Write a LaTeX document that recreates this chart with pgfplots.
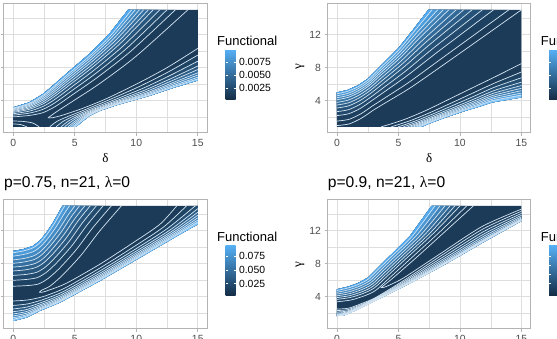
\documentclass[border=0pt]{standalone}
\usepackage{pgfplots}
\pgfplotsset{compat=1.18}
\usepackage{fontspec}
\setmainfont{Liberation Sans}
\newfontfamily\gk{Liberation Serif}
\definecolor{cLo}{HTML}{132B43}
\definecolor{cHi}{HTML}{56B1F7}
\definecolor{grey87}{HTML}{DEDEDE}
\definecolor{grey70}{HTML}{B3B3B3}
\definecolor{grey30}{HTML}{4D4D4D}
\definecolor{lineC}{RGB}{212,229,243}
\colorlet{pale}{cHi!72!white}
\newcommand\band[3]{\edef\ggtmp{\noexpand\addplot[draw=none,fill=#1,forget plot] coordinates {#2 #3} -- cycle;}\ggtmp}
\newcommand\ctr[1]{\edef\ggtmp{\noexpand\addplot[lineC,line width=0.7pt,mark=none,smooth,tension=0.45,forget plot] coordinates {#1};}\ggtmp}
% ---------- panel A ----------
\def\bAu{(9.34,15) (7.85,12.16) (6.22,9.71) (4.32,7.27) (3.23,5.84) (2.4,4.8) (1.3,3.8) (0,3.2)}
\def\bAl{(15,6.45) (13.0,5.55) (11.11,4.61) (8.4,3.47) (7.03,2.78) (6.2,2.16) (5.67,1.55) (5.1,0.85)}
\def\Aua{(0,2.05) (1.3,2.22) (2.4,2.55) (3.44,3.32) (4.86,4.77) (6.84,6.82) (9.55,9.98) (13.18,15)}
\def\Aub{(0,2.26) (1.3,2.5) (2.4,2.95) (3.41,3.77) (4.76,5.21) (6.73,7.33) (9.25,10.37) (12.5,15)}
\def\Auc{(0,2.43) (1.3,2.74) (2.4,3.29) (3.37,4.15) (4.68,5.59) (6.63,7.77) (8.99,10.7) (11.92,15)}
\def\Aud{(0,2.59) (1.3,2.96) (2.4,3.6) (3.34,4.5) (4.61,5.94) (6.55,8.17) (8.75,11.0) (11.38,15)}
\def\Aue{(0,2.71) (1.3,3.12) (2.4,3.83) (3.32,4.76) (4.55,6.19) (6.49,8.47) (8.58,11.22) (10.99,15)}
\def\Auf{(0,2.82) (1.3,3.28) (2.4,4.06) (3.3,5.01) (4.5,6.45) (6.42,8.76) (8.41,11.44) (10.6,15)}
\def\Aug{(0,2.92) (1.3,3.42) (2.4,4.26) (3.28,5.23) (4.45,6.67) (6.37,9.02) (8.26,11.64) (10.26,15)}
\def\Auh{(0,3.03) (1.3,3.56) (2.4,4.46) (3.26,5.46) (4.4,6.89) (6.31,9.27) (8.11,11.83) (9.92,15)}
\def\Aui{(0,3.11) (1.3,3.68) (2.4,4.63) (3.25,5.65) (4.36,7.08) (6.27,9.49) (7.98,11.99) (9.63,15)}
\def\Ala{(2.97,0.85) (3.56,1.51) (4.46,2.11) (5.82,2.91) (7.69,4.05) (10.23,5.71) (12.61,7.49) (15,9.52)}
\def\Alb{(3.48,0.85) (4.07,1.52) (4.88,2.12) (6.11,2.88) (7.86,3.91) (10.44,5.44) (12.7,7.02) (15,8.78)}
\def\Alc{(3.89,0.85) (4.47,1.53) (5.21,2.13) (6.34,2.86) (8.0,3.8) (10.61,5.24) (12.78,6.65) (15,8.2)}
\def\Ald{(4.18,0.85) (4.76,1.53) (5.45,2.14) (6.51,2.84) (8.09,3.72) (10.73,5.08) (12.83,6.38) (15,7.77)}
\def\Ale{(4.45,0.85) (5.03,1.54) (5.67,2.15) (6.66,2.82) (8.18,3.65) (10.84,4.94) (12.88,6.14) (15,7.38)}
\def\Alf{(4.64,0.85) (5.22,1.54) (5.83,2.15) (6.77,2.81) (8.25,3.59) (10.92,4.85) (12.92,5.97) (15,7.11)}
\def\Alg{(4.83,0.85) (5.4,1.55) (5.98,2.15) (6.88,2.8) (8.31,3.54) (11.0,4.75) (12.95,5.8) (15,6.84)}
\def\Alh{(4.97,0.85) (5.54,1.55) (6.09,2.16) (6.95,2.79) (8.36,3.51) (11.06,4.68) (12.98,5.67) (15,6.64)}
\def\AU{(15,10.33) (12.5,8.0) (10,6.0) (7.5,4.2) (5.5,3.0) (4,2.25) (3.2,1.95) (2.85,1.94) (3.0,2.12) (3.5,2.65) (5,4.1) (7,6.05) (10,9.4) (14.2,15)}
% ---------- panel B ----------
\def\bBu{(7.43,15) (6.2,12.6) (4.97,10.3) (3.33,7.88) (2.51,6.65) (1.69,5.84) (0.87,5.3) (0,5.0)}
\def\bBl{(15,4.4) (12.62,3.8) (11.5,3.25) (10.43,2.78) (8.8,1.96) (7.7,1.35) (7.3,1.1) (6.89,0.85)}
\def\BV{(0,1.0) (1.0,1.2) (2.0,1.9) (3.0,2.9) (4.0,3.8) (6.0,5.6) (9.0,8.7) (15,15)}
\def\Bua{(0,1.54) (0.98,1.75) (1.96,2.43) (2.93,3.41) (3.91,4.35) (5.86,6.24) (8.62,9.23) (13.98,15)}
\def\Bub{(0,2.2) (0.96,2.43) (1.91,3.08) (2.85,4.03) (3.8,5.02) (5.69,7.01) (8.16,9.87) (12.73,15)}
\def\Buc{(0,2.68) (0.95,2.92) (1.87,3.56) (2.79,4.48) (3.72,5.51) (5.57,7.57) (7.82,10.34) (11.82,15)}
\def\Bud{(0,3.12) (0.93,3.37) (1.84,3.99) (2.74,4.89) (3.65,5.96) (5.45,8.09) (7.52,10.77) (10.99,15)}
\def\Bue{(0,3.48) (0.92,3.74) (1.81,4.34) (2.7,5.23) (3.59,6.33) (5.36,8.51) (7.26,11.12) (10.31,15)}
\def\Buf{(0,3.8) (0.91,4.07) (1.78,4.66) (2.66,5.53) (3.53,6.66) (5.28,8.89) (7.04,11.43) (9.7,15)}
\def\Bug{(0,4.12) (0.9,4.4) (1.76,4.97) (2.62,5.83) (3.48,6.98) (5.2,9.27) (6.82,11.74) (9.1,15)}
\def\Buh{(0,4.36) (0.89,4.64) (1.74,5.21) (2.59,6.05) (3.44,7.23) (5.14,9.55) (6.65,11.98) (8.64,15)}
\def\Bui{(0,4.6) (0.88,4.89) (1.72,5.45) (2.56,6.28) (3.4,7.47) (5.07,9.83) (6.48,12.21) (8.19,15)}
\def\Buj{(0,4.84) (0.87,5.14) (1.7,5.68) (2.53,6.5) (3.36,7.72) (5.01,10.11) (6.31,12.44) (7.73,15)}
\def\BW{(3.6,0.85) (4.4,1.2) (5.6,1.8) (7.2,2.8) (9,4.1) (11.2,5.7) (13,7.0) (15,8.5)}
\def\Bla{(4.42,0.85) (5.13,1.18) (6.13,1.69) (7.6,2.59) (9.36,3.77) (11.28,5.09) (12.91,6.2) (15,7.48)}
\def\Blb{(4.98,0.85) (5.62,1.16) (6.48,1.61) (7.87,2.45) (9.6,3.55) (11.33,4.67) (12.84,5.66) (15,6.78)}
\def\Blc{(5.41,0.85) (6.0,1.15) (6.76,1.55) (8.08,2.34) (9.79,3.37) (11.37,4.35) (12.79,5.24) (15,6.25)}
\def\Bld{(5.74,0.85) (6.29,1.14) (6.97,1.51) (8.24,2.25) (9.93,3.24) (11.4,4.11) (12.75,4.92) (15,5.84)}
\def\Ble{(6.0,0.85) (6.52,1.13) (7.13,1.47) (8.37,2.19) (10.04,3.14) (11.42,3.91) (12.72,4.66) (15,5.51)}
\def\Blf{(6.23,0.85) (6.72,1.12) (7.28,1.44) (8.48,2.13) (10.14,3.04) (11.44,3.74) (12.7,4.44) (15,5.22)}
\def\Blg{(6.46,0.85) (6.92,1.11) (7.43,1.41) (8.59,2.07) (10.24,2.95) (11.46,3.57) (12.67,4.22) (15,4.93)}
\def\Blh{(6.66,0.85) (7.1,1.11) (7.55,1.38) (8.69,2.02) (10.33,2.87) (11.48,3.42) (12.65,4.02) (15,4.69)}
% ---------- panel C ----------
\def\bCu{(4.0,15) (3.77,14.37) (3.23,12.95) (2.69,11.74) (2.14,10.74) (1.6,10.14) (0.79,9.74) (0,9.53)}
\def\bCl{(15,12.76) (13.55,11.55) (10.29,8.72) (7.03,5.9) (3.77,3.28) (2.14,2.28) (1.06,1.47) (0,1.07)}
\def\Cua{(0,5.27) (1.13,5.35) (2.05,5.54) (2.85,6.23) (3.78,7.47) (5.11,9.67) (6.45,12.32) (7.98,15)}
\def\Cub{(0,5.99) (1.07,6.09) (1.97,6.32) (2.73,6.99) (3.59,8.19) (4.8,10.23) (6.0,12.67) (7.31,15)}
\def\Cuc{(0,6.58) (1.03,6.7) (1.91,6.96) (2.63,7.61) (3.44,8.79) (4.54,10.68) (5.63,12.95) (6.76,15)}
\def\Cud{(0,7.12) (0.98,7.25) (1.85,7.54) (2.54,8.18) (3.31,9.32) (4.3,11.09) (5.29,13.21) (6.26,15)}
\def\Cue{(0,7.58) (0.95,7.73) (1.81,8.04) (2.47,8.67) (3.19,9.79) (4.09,11.45) (5.0,13.43) (5.82,15)}
\def\Cuf{(0,8.04) (0.91,8.21) (1.76,8.53) (2.39,9.16) (3.07,10.25) (3.89,11.8) (4.71,13.65) (5.39,15)}
\def\Cug{(0,8.45) (0.88,8.63) (1.71,8.98) (2.32,9.6) (2.97,10.66) (3.71,12.12) (4.45,13.85) (5.01,15)}
\def\Cuh{(0,8.91) (0.84,9.11) (1.67,9.48) (2.24,10.09) (2.85,11.12) (3.5,12.48) (4.16,14.07) (4.58,15)}
\def\Cui{(0,9.32) (0.81,9.53) (1.62,9.92) (2.17,10.52) (2.74,11.53) (3.32,12.79) (3.9,14.27) (4.19,15)}
\def\Cla{(0,3.49) (1.17,3.61) (2.43,4.02) (4.21,5.06) (7.03,7.46) (9.86,10.1) (12.25,12.47) (14.09,15)}
\def\Clb{(0,2.95) (1.15,3.13) (2.36,3.63) (4.11,4.66) (7.03,7.11) (9.96,9.79) (12.54,12.26) (14.8,15)}
\def\Clc{(0,2.52) (1.13,2.76) (2.31,3.32) (4.03,4.35) (7.03,6.84) (10.03,9.55) (12.77,12.1) (15,14.65)}
\def\Cld{(0,2.19) (1.11,2.46) (2.27,3.08) (3.97,4.1) (7.03,6.62) (10.09,9.36) (12.95,11.98) (15,14.22)}
\def\Cle{(0,1.92) (1.1,2.22) (2.24,2.89) (3.92,3.9) (7.03,6.45) (10.14,9.2) (13.09,11.87) (15,13.86)}
\def\Clf{(0,1.68) (1.09,2.01) (2.21,2.71) (3.88,3.72) (7.03,6.29) (10.18,9.07) (13.22,11.78) (15,13.55)}
\def\Clg{(0,1.46) (1.08,1.82) (2.19,2.56) (3.84,3.57) (7.03,6.15) (10.22,8.95) (13.34,11.7) (15,13.27)}
\def\Clh{(0,1.28) (1.07,1.66) (2.17,2.43) (3.81,3.44) (7.03,6.04) (10.25,8.84) (13.44,11.63) (15,13.04)}
\def\CU{(13.3,15) (11.92,12.76) (9.75,10.54) (7.03,7.92) (4.32,5.63) (3.0,4.85) (2.4,4.56) (2.14,4.55) (2.3,4.78) (3.0,5.3) (4.0,6.6) (5.5,9.0) (7.0,11.9) (8.8,15)}
% ---------- panel D ----------
\def\bDu{(7.7,15) (5.93,11.35) (4.43,9.13) (3.33,7.51) (2.51,6.3) (1.69,5.63) (0.87,5.21) (0,4.9)}
\def\bDl{(15,13.16) (12.07,10.74) (8.8,7.92) (5.52,5.3) (2.51,3.09) (1.42,2.28) (0.6,1.76) (0,1.67)}
\def\Dua{(0,3.39) (1.15,3.61) (2.29,4.14) (3.17,4.79) (4.31,6.33) (6.17,8.85) (8.34,11.81) (10.56,15)}
\def\Dub{(0,3.68) (1.09,3.91) (2.17,4.42) (3.05,5.08) (4.13,6.55) (5.84,8.91) (7.88,11.72) (10.01,15)}
\def\Duc{(0,3.89) (1.06,4.14) (2.09,4.63) (2.95,5.29) (3.99,6.72) (5.59,8.95) (7.54,11.66) (9.6,15)}
\def\Dud{(0,4.11) (1.02,4.37) (2.0,4.85) (2.86,5.51) (3.85,6.89) (5.34,8.99) (7.19,11.59) (9.2,15)}
\def\Due{(0,4.32) (0.98,4.6) (1.92,5.06) (2.76,5.72) (3.7,7.06) (5.09,9.02) (6.85,11.53) (8.79,15)}
\def\Duf{(0,4.54) (0.94,4.83) (1.83,5.27) (2.67,5.94) (3.56,7.23) (4.84,9.06) (6.5,11.46) (8.38,15)}
\def\Dug{(0,4.76) (0.9,5.06) (1.75,5.49) (2.57,6.16) (3.42,7.4) (4.6,9.1) (6.16,11.39) (7.97,15)}
\def\Dla{(0,2.51) (0.93,2.61) (1.9,3.12) (3.16,3.92) (5.5,6.04) (8.55,9.05) (11.85,12.18) (15,14.34)}
\def\Dlb{(0,2.33) (0.86,2.43) (1.79,2.93) (3.02,3.74) (5.51,5.88) (8.61,8.8) (11.9,11.87) (15,14.08)}
\def\Dlc{(0,2.16) (0.79,2.26) (1.7,2.77) (2.89,3.58) (5.51,5.73) (8.66,8.58) (11.94,11.59) (15,13.85)}
\def\Dld{(0,2.03) (0.74,2.12) (1.62,2.64) (2.79,3.44) (5.51,5.62) (8.7,8.4) (11.98,11.36) (15,13.66)}
\def\Dle{(0,1.92) (0.7,2.01) (1.56,2.53) (2.7,3.33) (5.52,5.52) (8.73,8.25) (12.01,11.16) (15,13.51)}
\def\Dlf{(0,1.82) (0.66,1.92) (1.51,2.43) (2.63,3.24) (5.52,5.44) (8.76,8.13) (12.03,11.0) (15,13.38)}
\def\Dlh{(0,1.78) (0.64,1.87) (1.48,2.39) (2.6,3.2) (5.52,5.4) (8.77,8.07) (12.04,10.93) (15,13.32)}
\def\Dlg{(0,1.74) (0.63,1.83) (1.46,2.35) (2.57,3.16) (5.52,5.36) (8.78,8.02) (12.05,10.86) (15,13.26)}
\def\Dli{(0,1.7) (0.61,1.79) (1.44,2.31) (2.53,3.12) (5.52,5.33) (8.79,7.96) (12.06,10.79) (15,13.2)}
\def\DU{(15,14.6) (11.8,12.5) (8.5,9.3) (5.5,6.35) (4.4,5.5) (3.85,5.15) (3.6,5.12) (3.75,5.3) (4.5,6.2) (6.5,8.8) (8.8,11.9) (11.1,15)}

\pgfplotsset{gg/.style={
  scale only axis, width=203pt, height=129pt,
  xmin=-0.75, xmax=15.75, ymin=0.1, ymax=15.7,
  xtick={0,5,10,15}, ytick={4,8,12},
  minor xtick={2.5,7.5,12.5}, minor ytick={2,6,10,14},
  grid=both,
  major grid style={draw=grey87, line width=0.6pt},
  minor grid style={draw=grey87, line width=0.3pt},
  axis line style={draw=grey70, line width=1pt},
  tick style={draw=grey70, line width=0.6pt},
  major tick length=3.2pt, minor tick length=0pt,
  tick align=outside, xtick pos=left, ytick pos=left,
  tick label style={font=\fontsize{10.4}{12}\selectfont, text=grey30},
  /pgf/number format/assume math mode=true,
  colorbar,
  colormap={gg}{color=(cLo) color=(cHi)},
  colorbar style={at={(parent axis.south east)}, anchor=south west,
    xshift=10pt, yshift=33pt, scale only axis, width=10pt, height=51pt,
    scaled y ticks=false,
    axis line style={draw=none}, tick style={draw=white, line width=0.5pt},
    major tick length=2pt, tick align=inside, ytick pos=both, yticklabel pos=right,
    yticklabel style={font=\fontsize{10.4}{12}\selectfont, text=black}},
}}

\begin{document}
\begin{tikzpicture}
\useasboundingbox (0,0) rectangle (557pt,339pt);
\clip (0,0) rectangle (557pt,339pt);

% ===== Panel A =====
\begin{axis}[gg, at={(4pt,206pt)}, anchor=south west,
  point meta min=0.0002, point meta max=0.01,
  colorbar style={ytick={0.0025,0.005,0.0075}, yticklabels={0.0025,0.0050,0.0075}}]
\addplot[draw=none, fill=cHi!12!cLo, forget plot] coordinates {(0,0.85) (0,3.2) (1.3,3.8) (2.4,4.8) (3.23,5.84) (4.32,7.27) (6.22,9.71) (7.85,12.16) (9.34,15) (15,15) (15,6.45) (13.0,5.55) (11.11,4.61) (8.4,3.47) (7.03,2.78) (6.2,2.16) (5.67,1.55) (5.1,0.85)} -- cycle;
\band{cHi!17!cLo}{\Aua}{\bAu}\band{cHi!24!cLo}{\Aub}{\bAu}\band{cHi!32!cLo}{\Auc}{\bAu}\band{cHi!41!cLo}{\Aud}{\bAu}\band{cHi!51!cLo}{\Aue}{\bAu}\band{cHi!61!cLo}{\Auf}{\bAu}\band{cHi!72!cLo}{\Aug}{\bAu}\band{cHi!83!cLo}{\Auh}{\bAu}\band{cHi!95!cLo}{\Aui}{\bAu}
\band{cHi!18!cLo}{\Ala}{\bAl}\band{cHi!26!cLo}{\Alb}{\bAl}\band{cHi!35!cLo}{\Alc}{\bAl}\band{cHi!46!cLo}{\Ald}{\bAl}\band{cHi!57!cLo}{\Ale}{\bAl}\band{cHi!69!cLo}{\Alf}{\bAl}\band{cHi!85!cLo}{\Alg}{\bAl}\band{pale}{\Alh}{\bAl}
\ctr{\Aua}\ctr{\Aub}\ctr{\Auc}\ctr{\Aud}\ctr{\Aue}\ctr{\Auf}\ctr{\Aug}\ctr{\Auh}\ctr{\Aui}
\ctr{\Ala}\ctr{\Alb}\ctr{\Alc}\ctr{\Ald}\ctr{\Ale}\ctr{\Alf}\ctr{\Alg}\ctr{\Alh}
\ctr{\AU}
\ctr{(0,1.55) (0.8,1.5) (1.6,1.3) (2.1,0.85)}
\ctr{(0,1.2) (0.6,1.12) (1.1,0.85)}
\end{axis}

% ===== Panel B =====
\begin{axis}[gg, at={(327.7pt,206pt)}, anchor=south west,
  point meta min=0.0002, point meta max=0.01,
  colorbar style={ytick={0.0025,0.005,0.0075}, yticklabels={0.0025,0.0050,0.0075}}]
\addplot[draw=none, fill=cHi!12!cLo, forget plot] coordinates {(0,0.85) (0,5.0) (0.87,5.3) (1.69,5.84) (2.51,6.65) (3.33,7.88) (4.97,10.3) (6.2,12.6) (7.43,15) (15,15) (15,4.4) (12.62,3.8) (11.5,3.25) (10.43,2.78) (8.8,1.96) (7.7,1.35) (7.3,1.1) (6.89,0.85)} -- cycle;
\band{cHi!16!cLo}{\Bua}{\bBu}\band{cHi!22!cLo}{\Bub}{\bBu}\band{cHi!29!cLo}{\Buc}{\bBu}\band{cHi!37!cLo}{\Bud}{\bBu}\band{cHi!46!cLo}{\Bue}{\bBu}\band{cHi!55!cLo}{\Buf}{\bBu}\band{cHi!64!cLo}{\Bug}{\bBu}\band{cHi!74!cLo}{\Buh}{\bBu}\band{cHi!84!cLo}{\Bui}{\bBu}\band{cHi!95!cLo}{\Buj}{\bBu}
\band{cHi!18!cLo}{\Bla}{\bBl}\band{cHi!26!cLo}{\Blb}{\bBl}\band{cHi!35!cLo}{\Blc}{\bBl}\band{cHi!46!cLo}{\Bld}{\bBl}\band{cHi!57!cLo}{\Ble}{\bBl}\band{cHi!69!cLo}{\Blf}{\bBl}\band{cHi!85!cLo}{\Blg}{\bBl}\band{pale}{\Blh}{\bBl}
\ctr{\BV}\ctr{\Bua}\ctr{\Bub}\ctr{\Buc}\ctr{\Bud}\ctr{\Bue}\ctr{\Buf}\ctr{\Bug}\ctr{\Buh}\ctr{\Bui}\ctr{\Buj}
\ctr{\BW}\ctr{\Bla}\ctr{\Blb}\ctr{\Blc}\ctr{\Bld}\ctr{\Ble}\ctr{\Blf}\ctr{\Blg}\ctr{\Blh}
\end{axis}

% ===== Panel C =====
\begin{axis}[gg, at={(4pt,10pt)}, anchor=south west,
  point meta min=0.002, point meta max=0.096,
  colorbar style={ytick={0.025,0.05,0.075}, yticklabels={0.025,0.050,0.075}}]
\addplot[draw=none, fill=cHi!12!cLo, forget plot] coordinates {(0,1.07) (0,9.53) (0.79,9.74) (1.6,10.14) (2.14,10.74) (2.69,11.74) (3.23,12.95) (3.77,14.37) (4.0,15) (15,15) (15,12.76) (13.55,11.55) (10.29,8.72) (7.03,5.9) (3.77,3.28) (2.14,2.28) (1.06,1.47)} -- cycle;
\band{cHi!17!cLo}{\Cua}{\bCu}\band{cHi!24!cLo}{\Cub}{\bCu}\band{cHi!32!cLo}{\Cuc}{\bCu}\band{cHi!41!cLo}{\Cud}{\bCu}\band{cHi!51!cLo}{\Cue}{\bCu}\band{cHi!61!cLo}{\Cuf}{\bCu}\band{cHi!72!cLo}{\Cug}{\bCu}\band{cHi!83!cLo}{\Cuh}{\bCu}\band{cHi!95!cLo}{\Cui}{\bCu}
\band{cHi!18!cLo}{\Cla (15,15)}{\bCl}\band{cHi!26!cLo}{\Clb (15,15)}{\bCl}\band{cHi!35!cLo}{\Clc}{\bCl}\band{cHi!46!cLo}{\Cld}{\bCl}\band{cHi!57!cLo}{\Cle}{\bCl}\band{cHi!69!cLo}{\Clf}{\bCl}\band{cHi!85!cLo}{\Clg}{\bCl}\band{pale}{\Clh}{\bCl}
\ctr{\Cua}\ctr{\Cub}\ctr{\Cuc}\ctr{\Cud}\ctr{\Cue}\ctr{\Cuf}\ctr{\Cug}\ctr{\Cuh}\ctr{\Cui}
\ctr{\Cla}\ctr{\Clb}\ctr{\Clc}\ctr{\Cld}\ctr{\Cle}\ctr{\Clf}\ctr{\Clg}\ctr{\Clh}
\ctr{\CU}
\end{axis}

% ===== Panel D =====
\begin{axis}[gg, at={(327.7pt,10pt)}, anchor=south west,
  point meta min=0, point meta max=0.0057,
  colorbar style={ytick={0.0014,0.0024,0.0034,0.0044}, yticklabels={0.001,0.002,0.003,0.004}}]
\addplot[draw=none, fill=cHi!12!cLo, forget plot] coordinates {(0,1.67) (0,4.9) (0.87,5.21) (1.69,5.63) (2.51,6.3) (3.33,7.51) (4.43,9.13) (5.93,11.35) (7.7,15) (15,15) (15,13.16) (12.07,10.74) (8.8,7.92) (5.52,5.3) (2.51,3.09) (1.42,2.28) (0.6,1.76)} -- cycle;
\band{cHi!19!cLo}{\Dua}{\bDu}\band{cHi!28!cLo}{\Dub}{\bDu}\band{cHi!40!cLo}{\Duc}{\bDu}\band{cHi!52!cLo}{\Dud}{\bDu}\band{cHi!66!cLo}{\Due}{\bDu}\band{cHi!80!cLo}{\Duf}{\bDu}\band{cHi!95!cLo}{\Dug}{\bDu}
\band{cHi!17!cLo}{\Dla}{\bDl}\band{cHi!24!cLo}{\Dlb}{\bDl}\band{cHi!32!cLo}{\Dlc}{\bDl}\band{cHi!41!cLo}{\Dld}{\bDl}\band{cHi!51!cLo}{\Dle}{\bDl}\band{cHi!61!cLo}{\Dlf}{\bDl}\band{cHi!72!cLo}{\Dlh}{\bDl}\band{cHi!85!cLo}{\Dlg}{\bDl}\band{pale}{\Dli}{\bDl}
\ctr{\Dua}\ctr{\Dub}\ctr{\Duc}\ctr{\Dud}\ctr{\Due}\ctr{\Duf}\ctr{\Dug}
\ctr{\Dla}\ctr{\Dlb}\ctr{\Dlc}\ctr{\Dld}\ctr{\Dle}\ctr{\Dlf}\ctr{\Dlh}\ctr{\Dlg}\ctr{\Dli}
\ctr{\DU}
\end{axis}

% ----- text -----
\node[font=\fontsize{13}{15}\selectfont\gk] at (105.5pt,181pt) {δ};
\node[font=\fontsize{13}{15}\selectfont\gk] at (429.2pt,181pt) {δ};
\node[font=\fontsize{13}{15}\selectfont\gk, rotate=90] at (300pt,272pt) {γ};
\node[font=\fontsize{13}{15}\selectfont\gk, rotate=90] at (300pt,74.5pt) {γ};
\node[anchor=base west, inner sep=0, font=\fontsize{15.6}{18}\selectfont] at (4pt,151.5pt) {p=0.75, n=21, {\gk λ}=0};
\node[anchor=base west, inner sep=0, font=\fontsize{15.6}{18}\selectfont] at (327.7pt,151.5pt) {p=0.9, n=21, {\gk λ}=0};
\node[anchor=base west, inner sep=0, font=\fontsize{13}{15}\selectfont] at (217pt,293.5pt) {Functional};
\node[anchor=base west, inner sep=0, font=\fontsize{13}{15}\selectfont] at (540.7pt,293.5pt) {Functional};
\node[anchor=base west, inner sep=0, font=\fontsize{13}{15}\selectfont] at (217pt,97.5pt) {Functional};
\node[anchor=base west, inner sep=0, font=\fontsize{13}{15}\selectfont] at (540.7pt,97.5pt) {Functional};
\end{tikzpicture}
\end{document}
